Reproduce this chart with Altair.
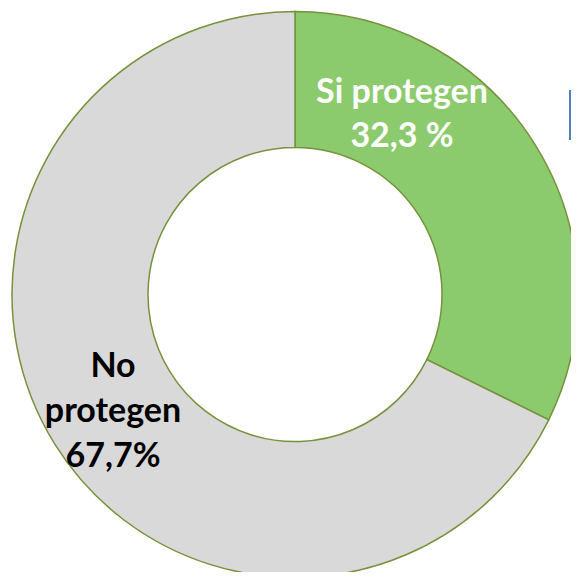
import altair as alt
import pandas as pd

categories = ["Si protegen", "No protegen"]
values = [32.3, 67.7]
colors = ["#8CCB6D", "#D9D9D9"]
label_lines = [["Si protegen", "32,3 %"], ["No", "protegen", "67,7%"]]
label_colors = ["#FFFFFF", "#000000"]

df = pd.DataFrame({"cat": categories, "val": values, "order": [0, 1]})

CX, CY = 287, 286.5
R_OUT, R_IN = 283, 147

arcs = alt.Chart(df).mark_arc(
    stroke="#76923C", strokeWidth=1.5, radius=R_OUT, radius2=R_IN
).encode(
    theta=alt.Theta("val:Q", stack=True),
    order=alt.Order("order:Q"),
    color=alt.Color("cat:N", scale=alt.Scale(domain=categories, range=colors), legend=None),
    x=alt.value(CX),
    y=alt.value(CY),
)

lab_green = alt.Chart(pd.DataFrame({"t": ["\n".join(label_lines[0])]})).mark_text(
    font="Lato", fontWeight="bold", fontSize=34, color=label_colors[0],
    align="center", baseline="alphabetic", lineHeight=44, lineBreak="\n",
).encode(text="t:N", x=alt.value(394), y=alt.value(95))

lab_gray = alt.Chart(pd.DataFrame({"t": ["\n".join(label_lines[1])]})).mark_text(
    font="Lato", fontWeight="bold", fontSize=34, color=label_colors[1],
    align="center", baseline="alphabetic", lineHeight=45, lineBreak="\n",
).encode(text="t:N", x=alt.value(105), y=alt.value(369))

blue = alt.Chart(pd.DataFrame({"a": [0]})).mark_rule(color="#4F81BD", strokeWidth=2).encode(
    x=alt.value(562), y=alt.value(82), y2=alt.value(132)
)

chart = alt.layer(arcs, lab_green, lab_gray, blue).properties(
    width=563, height=564, padding=0, autosize=alt.AutoSizeParams(type="none")
).configure_view(stroke=None)

chart.save("out.html", embed_options={"renderer": "svg", "actions": False})
